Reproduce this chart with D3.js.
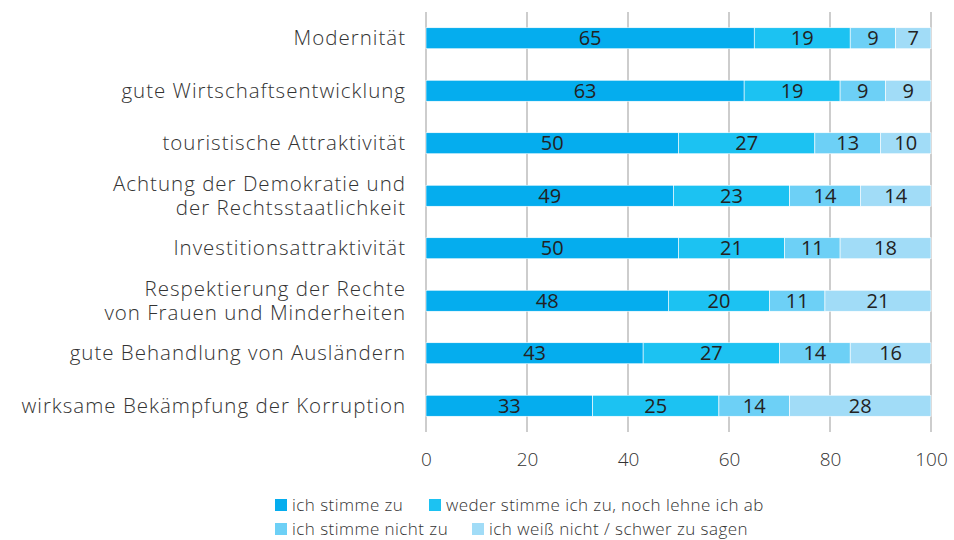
<!DOCTYPE html>
<html>
<head>
<meta charset="utf-8">
<script src="https://cdn.jsdelivr.net/npm/d3@7"></script>
<style>
  body { margin: 0; background: #fff; }
  svg text { font-family: "Open Sans", sans-serif; }
</style>
</head>
<body>
<div id="chart"></div>
<script>
// Categories (each entry is a list of label lines)
let categories = [
    ["Modernität"],
    ["gute Wirtschaftsentwicklung"],
    ["touristische Attraktivität"],
    ["Achtung der Demokratie und", "der Rechtsstaatlichkeit"],
    ["Investitionsattraktivität"],
    ["Respektierung der Rechte", "von Frauen und Minderheiten"],
    ["gute Behandlung von Ausländern"],
    ["wirksame Bekämpfung der Korruption"]
];
let seriesNames = ["ich stimme zu", "weder stimme ich zu, noch lehne ich ab",
                   "ich stimme nicht zu", "ich weiß nicht / schwer zu sagen"];
let agree    = [65, 63, 50, 49, 50, 48, 43, 33];
let neither  = [19, 19, 27, 23, 21, 20, 27, 25];
let disagree = [9, 9, 13, 14, 11, 11, 14, 14];
let dontKnow = [7, 9, 10, 14, 18, 21, 16, 28];
let xTicks = [0, 20, 40, 60, 80, 100];
let colors = ["#05adee", "#1cc2f2", "#6dd0f6", "#a1dcf7"];

let W = 954, H = 540;
let margin = {top: 12, right: 23, bottom: 108, left: 426};
let width = W - margin.left - margin.right,
    height = H - margin.top - margin.bottom;

let rows = categories.map(function(c, i) {
    return {label: c, values: [agree[i], neither[i], disagree[i], dontKnow[i]]};
});

let x = d3.scaleLinear().domain([0, 100]).range([0, width]);
let y = d3.scaleBand().domain(d3.range(rows.length)).range([0, height]).paddingInner(0.6).paddingOuter(0.3);

let svg = d3.select("#chart").append("svg")
    .attr("width", W).attr("height", H);
let g = svg.append("g")
    .attr("transform", "translate(" + margin.left + "," + margin.top + ")");

// gridlines
g.selectAll(".grid")
    .data(xTicks)
    .enter().append("line")
    .attr("x1", function(d) { return x(d); })
    .attr("x2", function(d) { return x(d); })
    .attr("y1", 0)
    .attr("y2", height)
    .attr("stroke", "#bdbdbd")
    .attr("stroke-width", 1.5);

// stacked bars
rows.forEach(function(r, i) {
    let start = 0;
    r.values.forEach(function(v, k) {
        let x0 = start;
        start += v;
        g.append("rect")
            .attr("x", x(x0))
            .attr("y", y(i))
            .attr("width", x(x0 + v) - x(x0))
            .attr("height", y.bandwidth())
            .attr("fill", colors[k])
            .attr("stroke", "#fff")
            .attr("stroke-width", 0.6);
        g.append("text")
            .attr("x", x(x0 + v / 2))
            .attr("y", y(i) + y.bandwidth() / 2)
            .attr("dy", "0.36em")
            .attr("text-anchor", "middle")
            .attr("font-size", 20)
            .attr("fill", "#222")
            .text(v);
    });
});

// category labels
rows.forEach(function(r, i) {
    let cy = y(i) + y.bandwidth() / 2;
    let n = r.label.length;
    let t = g.append("text")
        .attr("x", -20)
        .attr("text-anchor", "end")
        .attr("font-size", 20.5)
        .attr("font-weight", 300)
        .attr("letter-spacing", 1)
        .attr("fill", "#333");
    r.label.forEach(function(line, j) {
        t.append("tspan")
            .attr("x", -20)
            .attr("y", cy + (j - (n - 1) / 2) * 24)
            .attr("dy", "0.35em")
            .text(line);
    });
});

// x axis labels
let xAxis = g.append("g")
    .attr("transform", "translate(0," + height + ")")
    .call(d3.axisBottom(x).tickValues(xTicks).tickSize(0).tickPadding(21));
xAxis.select(".domain").remove();
xAxis.selectAll("text")
    .attr("font-size", 19)
    .attr("font-weight", 300)
    .attr("fill", "#333")
    .style("font-family", "Open Sans, sans-serif");

// legend
let legendPos = [[275, 505], [429, 505], [275, 529], [472, 529]];
seriesNames.forEach(function(name, k) {
    let lg = svg.append("g")
        .attr("transform", "translate(" + legendPos[k][0] + "," + legendPos[k][1] + ")");
    lg.append("rect")
        .attr("x", 0).attr("y", -6)
        .attr("width", 12).attr("height", 12)
        .attr("fill", colors[k]);
    lg.append("text")
        .attr("x", 17)
        .attr("dy", "0.35em")
        .attr("font-size", 17)
        .attr("font-weight", 300)
        .attr("letter-spacing", 0.45)
        .attr("fill", "#333")
        .text(name);
});
</script>
</body>
</html>
